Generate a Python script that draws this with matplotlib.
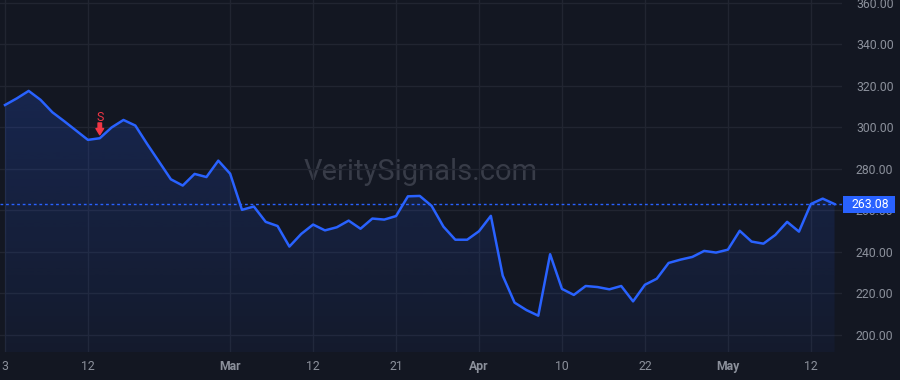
"""Price line chart with gradient area, sell marker and last-price tag."""

import matplotlib

matplotlib.use("Agg")

import matplotlib.pyplot as plt
import numpy as np
from matplotlib.colors import LinearSegmentedColormap, to_rgb
from matplotlib.patches import Rectangle

# daily closes, Feb 3 -> May 14 (trading days only)
closes = [
    310.8, 314.0, 317.6, 313.3, 307.3, 303.0, 298.5, 294.0, 294.8, 300.0,
    303.6, 300.9, 292.0, 283.5, 275.0, 272.0, 277.6, 276.1, 284.0, 277.7,
    260.3, 261.9, 254.5, 252.5, 242.6, 248.7, 253.2, 250.4, 251.9, 255.1,
    251.2, 256.1, 255.6, 257.3, 266.8, 267.0, 262.2, 252.2, 245.9, 245.9,
    250.0, 257.4, 228.6, 215.6, 212.0, 209.3, 238.9, 222.2, 219.3, 223.6,
    223.1, 222.0, 223.6, 216.2, 224.2, 227.1, 234.7, 236.3, 237.6, 240.5,
    239.7, 241.1, 250.2, 245.0, 244.0, 248.2, 254.5, 249.8, 263.1, 265.7,
    263.08,
]
tick_pos = [0, 7, 19, 26, 33, 40, 47, 54, 61, 68]
tick_labels = ["3", "12", "Mar", "12", "21", "Apr", "10", "22", "May", "12"]
month_labels = {"Mar", "Apr", "May"}
price_ticks = [200, 220, 240, 260, 280, 300, 320, 340, 360]
sell_index = 8
last_price = 263.08

BG = "#131722"
GRID = "#212531"
LINE = "#2962ff"
TEXT = "#8b909b"
RED = "#f23645"

plt.rcParams["font.family"] = ["Roboto", "DejaVu Sans"]

W, H = 900, 380
fig = plt.figure(figsize=(W / 100, H / 100), dpi=100, facecolor=BG)
ax = fig.add_axes([0, 28 / H, 842 / W, 1 - 28 / H])
ax.set_facecolor(BG)

x = np.arange(len(closes))
y = np.array(closes)
ymin, ymax = 191.8, 361.4
xmin, xmax = -0.42, 70.63

# gradient area under the line (semi-transparent so the grid shows through)
poly = ax.fill_between(x, y, ymin, color="none", linewidth=0)
r, g, b = to_rgb(LINE)
cmap = LinearSegmentedColormap.from_list("area", [(r, g, b, 0.05), (r, g, b, 0.2)])
grad = np.linspace(0, 1, 256).reshape(-1, 1)
im = ax.imshow(grad, extent=[x[0], x[-1], ymin, y.max()], aspect="auto",
               origin="lower", cmap=cmap, zorder=1)
im.set_clip_path(poly.get_paths()[0], transform=ax.transData)

ax.plot(x, y, color=LINE, linewidth=1.8, zorder=3)
ax.axhline(last_price, color=LINE, linewidth=1, linestyle=(0, (2, 2)), zorder=2)

ax.set_xlim(xmin, xmax)
ax.set_ylim(ymin, ymax)

ax.set_xticks(tick_pos)
ax.set_xticklabels(tick_labels)
for lbl in ax.get_xticklabels():
    if lbl.get_text() in month_labels:
        lbl.set_fontweight("bold")
ax.set_yticks(price_ticks)
ax.set_yticklabels([f"{v:.2f}" for v in price_ticks])
ax.yaxis.tick_right()
ax.tick_params(axis="x", length=0, pad=6, labelsize=8.8, colors=TEXT)
ax.tick_params(axis="y", length=0, pad=10, labelsize=8.8, colors=TEXT)
for lbl in ax.get_yticklabels():
    lbl.set_horizontalalignment("left")

ax.grid(True, color=GRID, linewidth=1)
ax.set_axisbelow(True)
for spine in ax.spines.values():
    spine.set_visible(False)

ax.text(0.5, 0.51, "VeritySignals.com", transform=ax.transAxes, ha="center",
        va="center", fontsize=21, color="#383c48", zorder=0)

# sell marker
ax.annotate("", xy=(sell_index, closes[sell_index]), xytext=(0, 11),
            textcoords="offset points",
            arrowprops=dict(arrowstyle="simple,head_width=0.55,head_length=0.45,tail_width=0.25",
                            color=RED, shrinkA=0, shrinkB=2.5), zorder=4)
ax.annotate("S", xy=(sell_index, closes[sell_index]), xytext=(0, 15),
            textcoords="offset points", ha="center", va="center",
            color=RED, fontsize=9, zorder=4)

# last price tag
fig.patches.append(Rectangle((843 / W, (H - 213) / H), 52 / W, 17 / H,
                             transform=fig.transFigure, facecolor=LINE,
                             edgecolor="none", zorder=5))
fig.text(870 / W, (H - 204.5) / H, f"{last_price:.2f}", color="white",
         ha="center", va="center", fontsize=8.8, zorder=6)

fig.savefig("out.png", dpi=100, facecolor=BG)
